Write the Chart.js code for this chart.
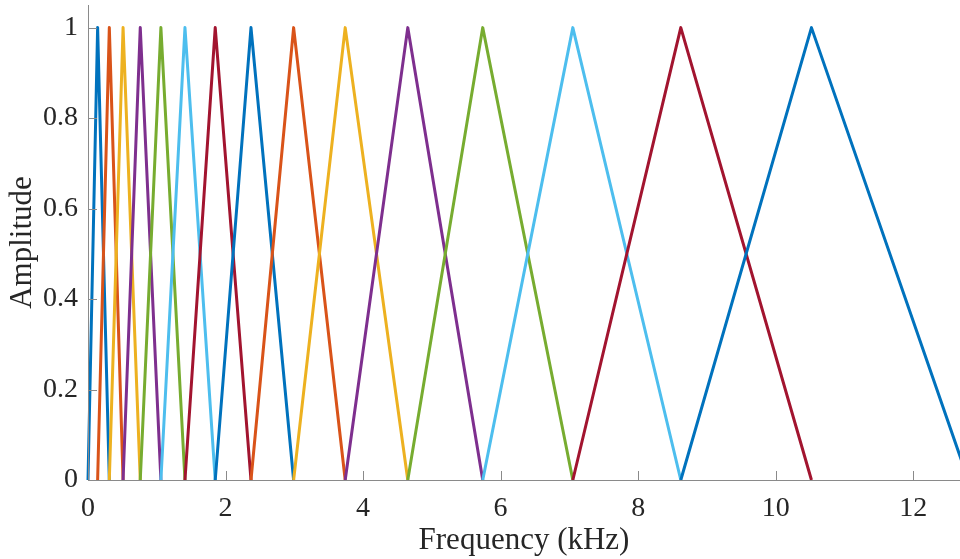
<!DOCTYPE html>
<html>
<head>
<meta charset="utf-8">
<script src="https://cdn.jsdelivr.net/npm/chart.js@4/dist/chart.umd.min.js"></script>
<style>
  html, body { margin: 0; padding: 0; background: #fff; }
  #wrap { width: 960px; height: 559px; }
</style>
</head>
<body>
<div id="wrap"><canvas id="c"></canvas></div>
<script>
// filter edge frequencies (kHz): 0, 15 peaks, end
const edges = [0, 0.14, 0.31, 0.51, 0.76, 1.06, 1.41, 1.85, 2.37, 2.99, 3.74, 4.65, 5.74, 7.05, 8.62, 10.52, 12.8];
const shape = [0, 1, 0];
const colors = ['#0072BD', '#D95319', '#EDB120', '#7E2F8E', '#77AC30', '#4DBEEE', '#A2142F'];
const xTicks = [0, 2, 4, 6, 8, 10, 12];
const yTicks = [0, 0.2, 0.4, 0.6, 0.8, 1];

const FONT = '"Liberation Serif", "Times New Roman", serif';
const AXIS = '#8a8a8a';

const datasets = [];
for (let i = 0; i + 2 < edges.length; i++) {
  datasets.push({
    data: [0, 1, 2].map(k => ({ x: edges[i + k], y: shape[k] })),
    borderColor: colors[i % colors.length],
    borderWidth: 3,
    borderJoinStyle: 'round',
    pointRadius: 0,
    tension: 0,
    clip: false,
    order: -i
  });
}

// MATLAB style ticks pointing into the plot
const innerTicks = {
  id: 'innerTicks',
  afterDatasetsDraw(chart) {
    const { ctx, chartArea: a, scales: { x, y } } = chart;
    ctx.save();
    ctx.strokeStyle = AXIS;
    ctx.lineWidth = 1;
    ctx.beginPath();
    xTicks.forEach(v => {
      const px = Math.round(x.getPixelForValue(v)) + 0.5;
      ctx.moveTo(px, a.bottom); ctx.lineTo(px, a.bottom - 9);
    });
    yTicks.forEach(v => {
      const py = Math.round(y.getPixelForValue(v)) + 0.5;
      ctx.moveTo(a.left, py); ctx.lineTo(a.left + 9, py);
    });
    ctx.moveTo(a.left + 0.5, a.top); ctx.lineTo(a.left + 0.5, a.bottom);
    ctx.moveTo(a.left, a.bottom + 0.5); ctx.lineTo(a.right, a.bottom + 0.5);
    ctx.stroke();
    ctx.restore();
  }
};

new Chart(document.getElementById('c'), {
  type: 'line',
  data: { datasets },
  plugins: [innerTicks],
  options: {
    responsive: true,
    maintainAspectRatio: false,
    animation: false,
    layout: { padding: { top: 5, right: 0, left: 0, bottom: 0 } },
    plugins: { legend: { display: false }, tooltip: { enabled: false } },
    scales: {
      x: {
        type: 'linear',
        min: 0,
        max: 12.68,
        afterBuildTicks: s => { s.ticks = xTicks.map(v => ({ value: v })); },
        afterFit: s => { s.height = 79; s.paddingLeft = 0; s.paddingRight = 0; },
        grid: { display: false, drawTicks: false },
        border: { display: false },
        ticks: { font: { family: FONT, size: 28 }, color: '#262626', padding: 12, maxRotation: 0, callback: v => String(v) },
        title: { display: true, text: 'Frequency (kHz)', font: { family: FONT, size: 31 }, color: '#262626', padding: { top: 0, bottom: 0 } }
      },
      y: {
        min: 0,
        max: 1.05,
        afterBuildTicks: s => { s.ticks = yTicks.map(v => ({ value: v })); },
        afterFit: s => { s.width = 88; s.paddingTop = 0; s.paddingBottom = 0; },
        grid: { display: false, drawTicks: false },
        border: { display: false },
        ticks: { font: { family: FONT, size: 28 }, color: '#262626', padding: 10, callback: v => String(v) },
        title: { display: true, text: 'Amplitude', font: { family: FONT, size: 31 }, color: '#262626', padding: { top: 4, bottom: 0 } }
      }
    }
  }
});
</script>
</body>
</html>
